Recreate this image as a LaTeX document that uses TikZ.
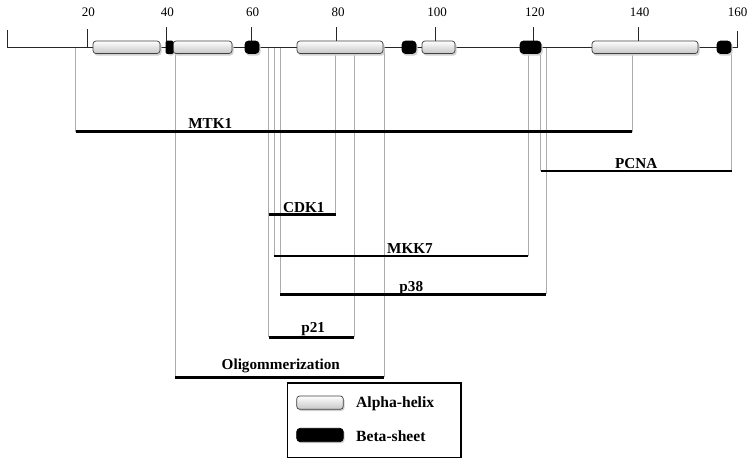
\documentclass[tikz,border=0pt]{standalone}
\usepackage{fontspec}
\setmainfont{Liberation Serif}
\begin{document}
\begin{tikzpicture}[x=1pt,y=-1pt,
  helix/.style={rounded corners=3pt, top color=white, bottom color=gray!45, draw=black!75, line width=0.7pt},
  betasheet/.style={rounded corners=3.5pt, fill=black, draw=black, line width=0.7pt},
  boxshadow/.style={rounded corners=3pt, fill=black!18, draw=none},
  guide/.style={draw=gray!65, line width=0.6pt},
  bar/.style={draw=black, line width=2.5pt},
  backbone/.style={draw=black!85, line width=0.8pt},
  tick/.style={draw=black!85, line width=0.8pt},
  ticklabel/.style={font=\fontsize{13}{15}\selectfont, anchor=base, inner sep=0pt},
  barlabel/.style={font=\fontsize{15.2}{17}\selectfont\bfseries, anchor=base, inner sep=0pt},
  legendlabel/.style={font=\fontsize{15.6}{18}\selectfont\bfseries, anchor=base west, inner sep=0pt}
]
\useasboundingbox (0,0) rectangle (750,464);
\fill[white] (0,0) rectangle (750,464);

% backbone reference
\coordinate (bb) at (0,47);

% bar end points
\coordinate (mtkL) at (75.7,131.7);   \coordinate (mtkR) at (632,131.7);
\coordinate (pcnaL) at (540.7,171);   \coordinate (pcnaR) at (731.5,171);
\coordinate (cdkL) at (268.5,214.3);  \coordinate (cdkR) at (335.6,214.3);
\coordinate (mkkL) at (273.8,256);    \coordinate (mkkR) at (527.8,256);
\coordinate (pL) at (280,294.3);      \coordinate (pR) at (545.8,294.3);
\coordinate (ptL) at (268.5,337.3);   \coordinate (ptR) at (354.2,337.3);
\coordinate (olL) at (174.8,377.3);   \coordinate (olR) at (383.8,377.3);

% guide lines
\foreach \c in {mtkL,mtkR,pcnaL,pcnaR,cdkR,mkkL,mkkR,pL,pR,ptL,ptR,olL,olR}
  \draw[guide] (\c |- bb) -- (\c);

% backbone
\coordinate (bbL0) at (7,30); \coordinate (bbL1) at (7,47);
\coordinate (bbR1) at (737.3,47); \coordinate (bbR0) at (737.3,31);
\draw[backbone] (bbL0) -- (bbL1) -- (bbR1) -- (bbR0);

% ticks
\draw[tick] (87.3,29) -- (87.3,47);
\foreach \x in {166,251.7,336.7,435.3,533.3,638.3}
  \draw[tick] (\x,27) -- (\x,41);

% tick labels
\node[ticklabel] (t20) at (88.3,16) {20};
\node[ticklabel] (t40) at (167.3,16) {40};
\node[ticklabel] (t60) at (252.5,16) {60};
\node[ticklabel] (t80) at (338,16) {80};
\node[ticklabel] (t100) at (437.2,16) {100};
\node[ticklabel] (t120) at (534.8,16) {120};
\node[ticklabel] (t140) at (639.7,16) {140};
\node[ticklabel] (t160) at (737.5,16) {160};

% shadows
\foreach \a/\b in {93/160,173/232,297/383,422/455,592/698,166/173,245/259,402/416,520/541,717/731}
  \fill[boxshadow] (\a+1,42.5) rectangle (\b+1.5,55.5);

% helices
\foreach \a/\b in {93/160,173/232,297/383,422/455,592/698}
  \path[helix] (\a,41) rectangle (\b,53.5);
% beta sheets
\path[betasheet, rounded corners=1pt] (166,41) rectangle (173,53.5);
\foreach \a/\b in {245/259,402/416,520/541,717/731}
  \path[betasheet] (\a,41) rectangle (\b,53.5);

% bars
\draw[bar] (mtkL) -- (mtkR);
\draw[bar] (pcnaL) -- (pcnaR);
\draw[bar] (cdkL) -- (cdkR);
\draw[bar] (mkkL) -- (mkkR);
\draw[bar] (pL) -- (pR);
\draw[bar] (ptL) -- (ptR);
\draw[bar] (olL) -- (olR);

% bar labels
\node[barlabel] (lmtk) at (210.3,128.3) {MTK1};
\node[barlabel] (lpcna) at (636.3,168.8) {PCNA};
\node[barlabel] (lcdk) at (303.8,212) {CDK1};
\node[barlabel] (lmkk) at (410,253.3) {MKK7};
\node[barlabel] (lp38) at (411.3,291) {p38};
\node[barlabel] (lp21) at (313.2,332) {p21};
\node[barlabel] (lol) at (280.8,369.5) {Oligommerization};

% legend
\draw[line width=1.6pt] (287.3,382.7) rectangle (461,457.3);
\fill[boxshadow] (298,397.5) rectangle (344.5,411);
\path[helix] (296.7,396) rectangle (343.3,409.3);
\fill[boxshadow] (298,429.8) rectangle (344.5,443.2);
\path[betasheet] (296.7,428.3) rectangle (343.3,441.7);
\node[legendlabel] (lga) at (356,407.3) {Alpha-helix};
\node[legendlabel] (lgb) at (356,441) {Beta-sheet};
\end{tikzpicture}
\end{document}
